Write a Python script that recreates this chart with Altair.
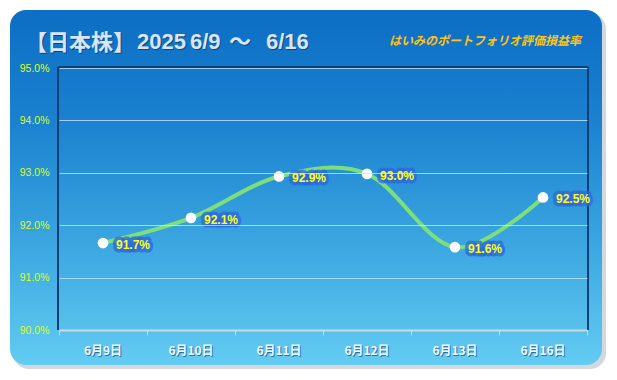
import altair as alt
import pandas as pd

# ---- data ----
dates = ["6月9日", "6月10日", "6月11日", "6月12日", "6月13日", "6月16日"]
values = [91.66, 92.14, 92.93, 92.98, 91.58, 92.53]
y_ticks = [90, 91, 92, 93, 94, 95]
title_jp = "【日本株】"
title_parts = ["2025", "6/9", "〜", "6/16"]
title_part_x = [78, 131, 170, 207]
subtitle = "はいみのポートフォリオ評価損益率"

df = pd.DataFrame({"date": dates, "value": values})

W, H = 528, 262

xenc = alt.X("date:N", sort=dates,
             scale=alt.Scale(type="band", paddingInner=0, paddingOuter=0),
             axis=alt.Axis(title=None, labels=False, tickBand="extent", tickSize=5,
                           tickColor="#d4d8dc", tickWidth=1, domainColor="#d4d8dc",
                           domainWidth=2, grid=False, zindex=2))
yenc = alt.Y("value:Q",
             scale=alt.Scale(domain=[90, 95], nice=False, zero=False),
             axis=alt.Axis(title=None, values=y_ticks, labelExpr="format(datum.value, '.1f') + '%'",
                           labelColor="#dcfa30", labelFont="Liberation Sans", labelFontSize=10.5,
                           labelPadding=10, ticks=False, domain=False, grid=True,
                           gridColor="#c4e6fb", gridOpacity=0.8, gridWidth=1, zindex=1))

base = alt.Chart(df)

# background panel + shadow
bgdf = pd.DataFrame({"k": [0]})
shadow = alt.Chart(bgdf).mark_rect(cornerRadius=16, color="#c9ced6", opacity=0.8).encode(
    x=alt.value(-46), x2=alt.value(547), y=alt.value(-55), y2=alt.value(301))
panel = alt.Chart(bgdf).mark_rect(
    cornerRadius=16,
    color=alt.LinearGradient(gradient="linear", x1=0, x2=0, y1=0, y2=1,
                             stops=[alt.GradientStop(color="#0c6ec4", offset=0),
                                    alt.GradientStop(color="#1a80cf", offset=0.3),
                                    alt.GradientStop(color="#3aa5e0", offset=0.65),
                                    alt.GradientStop(color="#62ccf2", offset=1)])).encode(
    x=alt.value(-49), x2=alt.value(543), y=alt.value(-58), y2=alt.value(297))

# plot frame (left, top, right)
frame_col = "#0c3f75"
frame_l = alt.Chart(bgdf).mark_rule(color=frame_col, strokeWidth=2).encode(
    x=alt.value(-1), y=alt.value(-1), y2=alt.value(H))
frame_t = alt.Chart(bgdf).mark_rule(color=frame_col, strokeWidth=2).encode(
    x=alt.value(-1), x2=alt.value(W + 1), y=alt.value(-1))
frame_r = alt.Chart(bgdf).mark_rule(color=frame_col, strokeWidth=2).encode(
    x=alt.value(W + 1), y=alt.value(-1), y2=alt.value(H))

# titles
t1df = pd.DataFrame({"t": [title_jp]})
t2df = pd.DataFrame({"t": title_parts, "px": title_part_x})
sdf = pd.DataFrame({"t": [subtitle]})
title1_sh = alt.Chart(t1df).mark_text(font="Noto Sans CJK JP", fontSize=22, fontWeight="bold",
                                      color="#0a3568", align="left", baseline="alphabetic",
                                      opacity=0.7).encode(
    text="t:N", x=alt.value(-33), y=alt.value(-17))
title1 = alt.Chart(t1df).mark_text(font="Noto Sans CJK JP", fontSize=22, fontWeight="bold",
                                   color="#d9e5f2", align="left", baseline="alphabetic").encode(
    text="t:N", x=alt.value(-34), y=alt.value(-18))
title2_sh = alt.Chart(t2df).mark_text(font="Liberation Sans, Noto Sans CJK JP", fontSize=22,
                                      fontWeight="bold", color="#0a3568", align="left",
                                      baseline="alphabetic", opacity=0.7, dx=1).encode(
    text="t:N", x=alt.X("px:Q", scale=None), y=alt.value(-18))
title2 = alt.Chart(t2df).mark_text(font="Liberation Sans, Noto Sans CJK JP", fontSize=22,
                                   fontWeight="bold", color="#d9e5f2", align="left",
                                   baseline="alphabetic").encode(
    text="t:N", x=alt.X("px:Q", scale=None), y=alt.value(-19))
sub = alt.Chart(sdf).mark_text(font="Noto Sans CJK JP", fontSize=12, fontStyle="italic",
                               fontWeight="bold", color="#ffc414", align="center",
                               baseline="alphabetic").encode(
    text="t:N", x=alt.value(426), y=alt.value(-23))

line = base.mark_line(interpolate="cardinal", color="#7ddf7a", strokeWidth=4).encode(x=xenc, y=yenc)
pts = base.mark_circle(size=115, color="white", opacity=1).encode(x=xenc, y=yenc)
labels = base.transform_calculate(lab="format(datum.value, '.1f') + '%'").mark_text(
    font="Liberation Sans", fontSize=12, fontWeight="bold", align="left",
    baseline="middle", dx=13, dy=2, color="#ffff1a").encode(
    x=xenc, y=yenc, text="lab:N")
glow = base.transform_calculate(lab="format(datum.value, '.1f') + '%'").mark_text(
    font="Liberation Sans", fontSize=12, fontWeight="bold", align="left",
    baseline="middle", dx=13, dy=2, color="#2d68dc", stroke="#2d68dc",
    strokeWidth=7, strokeOpacity=0.75, strokeJoin="round").encode(
    x=xenc, y=yenc, text="lab:N")

xlab_sh = base.mark_text(font="Noto Sans CJK JP", fontSize=12, fontWeight="bold",
                         color="#1d5c92", opacity=0.8, baseline="middle", dx=1).encode(
    x=xenc, y=alt.value(H + 22), text="date:N")
xlab = base.mark_text(font="Noto Sans CJK JP", fontSize=12, fontWeight="bold",
                      color="#f4f8fc", baseline="middle").encode(
    x=xenc, y=alt.value(H + 21), text="date:N")

chart = alt.layer(
    shadow, panel, frame_l, frame_t, frame_r, title1_sh, title1, title2_sh, title2, sub,
    line, pts, glow, labels, xlab_sh, xlab
).properties(
    width=W, height=H,
    padding={"left": 51, "top": 60, "right": 22, "bottom": 42},
    autosize=alt.AutoSizeParams(type="none"),
    background="white",
).configure_view(stroke=None)

chart.save("out.html", embed_options={"renderer": "svg", "actions": False})
